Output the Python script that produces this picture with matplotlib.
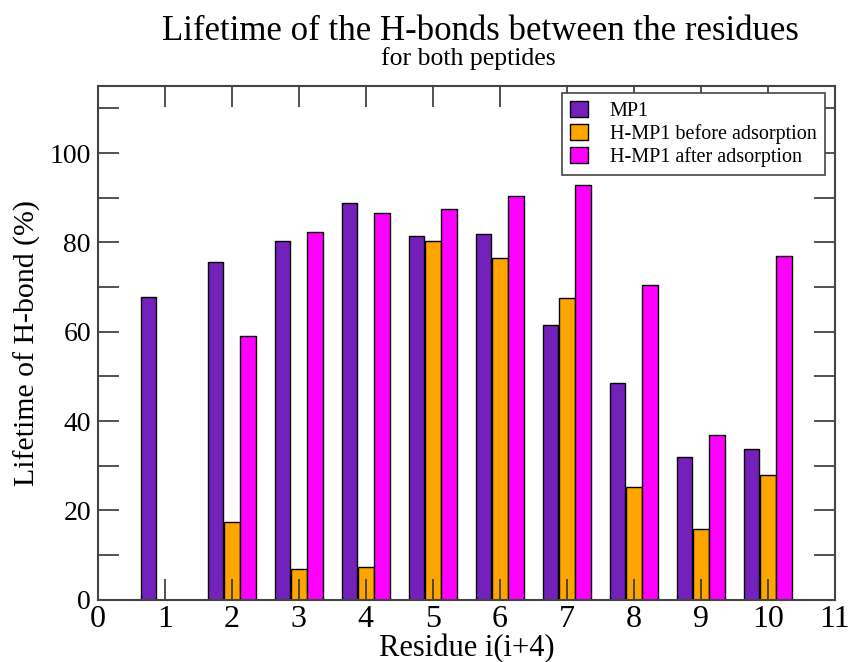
import matplotlib
matplotlib.use("Agg")
import matplotlib.pyplot as plt
import numpy as np
from matplotlib.ticker import MultipleLocator

plt.rcParams["font.family"] = ["Liberation Serif", "DejaVu Serif"]

# data
residues = [1, 2, 3, 4, 5, 6, 7, 8, 9, 10]
mp1 = [67.7, 75.7, 80.4, 88.8, 81.5, 81.8, 61.5, 48.6, 32.0, 33.8]
hmp1_before = [0.0, 17.4, 6.9, 7.4, 80.4, 76.4, 67.6, 25.2, 15.8, 28.0]
hmp1_after = [0.0, 59.0, 82.4, 86.6, 87.4, 90.4, 92.8, 70.5, 36.8, 76.9]
series_labels = ["MP1", "H-MP1 before adsorption", "H-MP1 after adsorption"]
series_colors = ["#7321BA", "#FFA500", "#FF00FF"]

fig = plt.figure(figsize=(8.51, 6.62), dpi=100)
ax = fig.add_axes([0.115, 0.094, 0.866, 0.776])

x = np.array(residues, dtype=float)
width = 0.235
offsets = [-0.245, 0.0, 0.245]
for vals, off, col, lab in zip([mp1, hmp1_before, hmp1_after], offsets,
                               series_colors, series_labels):
    v = np.array(vals)
    keep = v > 0  # zero entries are simply not drawn in the original
    ax.bar(x[keep] + off, v[keep], width=width, color=col, edgecolor="black",
           linewidth=1.0, label=lab)

ax.set_xlim(0, 11)
ax.set_ylim(0, 115)
ax.xaxis.set_major_locator(MultipleLocator(1))
ax.yaxis.set_major_locator(MultipleLocator(20))
ax.yaxis.set_minor_locator(MultipleLocator(10))

ax.tick_params(which="both", direction="in", length=15, width=1.2,
               top=True, right=True, color="#333333")
ax.tick_params(axis="x", which="major", labelsize=23, pad=4)
ax.tick_params(axis="y", which="major", labelsize=20, pad=5)
for s in ax.spines.values():
    s.set_linewidth(1.5)
    s.set_color("#444444")

ax.set_xlabel("Residue i(i+4)", fontsize=22, labelpad=0)
ax.set_ylabel("Lifetime of H-bond (%)", fontsize=21.5, labelpad=6)

fig.text(0.564, 1 - 40 / 662, "Lifetime of the H-bonds between the residues",
         ha="center", va="baseline", fontsize=25)
fig.text(0.55, 1 - 65 / 662, "for both peptides", ha="center", va="baseline",
         fontsize=18.5)

leg = ax.legend(loc="upper right", bbox_to_anchor=(0.986, 0.986), fontsize=14.5,
                frameon=True, fancybox=False, handlelength=0.85, handleheight=0.85,
                handletextpad=1.1, borderpad=0.4, labelspacing=0.15,
                borderaxespad=0)
leg.get_frame().set_edgecolor("#444444")
leg.get_frame().set_linewidth(1.2)
leg.get_frame().set_alpha(1)

fig.savefig("out.png", dpi=100)
